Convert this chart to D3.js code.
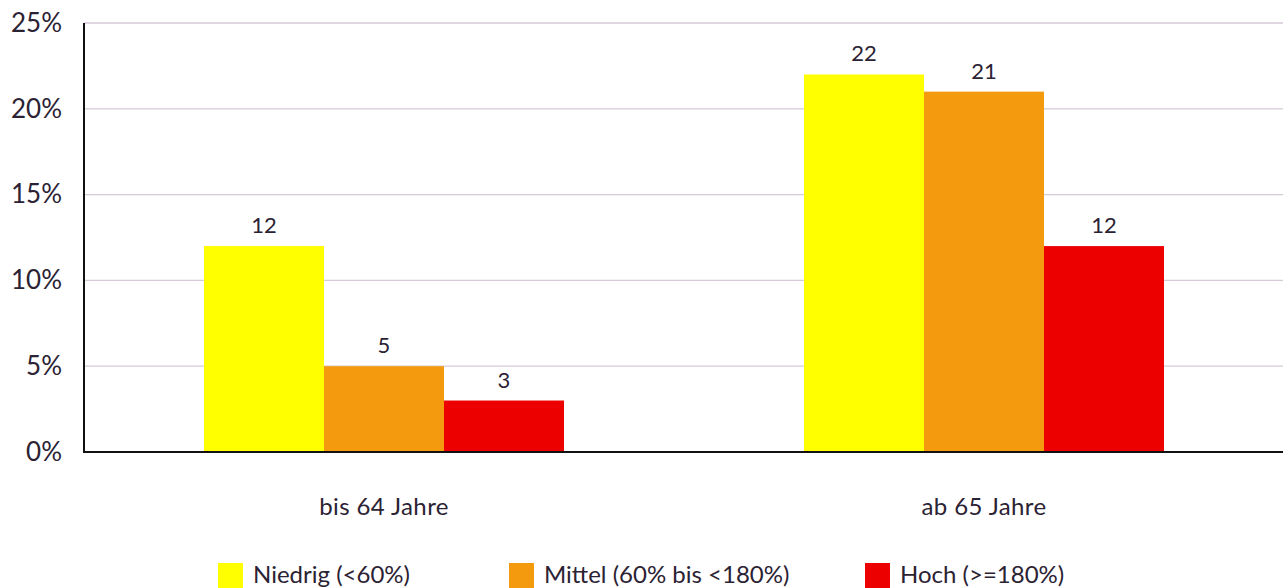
<!DOCTYPE html>
<html>
<head>
<meta charset="utf-8">
<script src="https://cdn.jsdelivr.net/npm/d3@7"></script>
<style>
  html, body { margin: 0; padding: 0; background: #fff; }
  svg { display: block; font-family: Lato, "Open Sans", sans-serif; }
</style>
</head>
<body>
<svg id="chart" width="1283" height="588"></svg>
<script>
const categories = ["bis 64 Jahre", "ab 65 Jahre"];
const seriesNames = ["Niedrig (<60%)", "Mittel (60% bis <180%)", "Hoch (>=180%)"];
const seriesColors = ["#FFFF00", "#F39A0E", "#EC0000"];
const niedrig = [12, 22];
const mittel = [5, 21];
const hoch = [3, 12];
const yTicks = [0, 5, 10, 15, 20, 25];

const seriesValues = [niedrig, mittel, hoch];
const svg = d3.select("#chart");
const textColor = "#2b2233";

const plotLeft = 84, plotRight = 1284, plotTop = 23, plotBottom = 452;

const x0 = d3.scaleBand().domain(categories).range([plotLeft, plotRight]).paddingInner(0).paddingOuter(0);
const x1 = d3.scaleBand().domain(seriesNames).range([120, 480]);
const y = d3.scaleLinear().domain([0, 25]).range([plotBottom, plotTop]);

// tick labels
const yAxis = d3.axisLeft(y).tickValues(yTicks).tickFormat(d => d + "%").tickSize(0).tickPadding(22);
const gy = svg.append("g").attr("transform", `translate(${plotLeft},0)`).call(yAxis);
gy.select(".domain").remove();
gy.selectAll("text").attr("font-size", 26).attr("fill", textColor).attr("font-family", "Lato, sans-serif");

// gridlines
svg.append("g").selectAll("line").data(yTicks.filter(d => d > 0)).join("line")
  .attr("x1", plotLeft).attr("x2", plotRight).attr("y1", d => y(d)).attr("y2", d => y(d))
  .attr("stroke", "#d6c9d8").attr("stroke-width", 1.3);

// bars
const groups = svg.append("g").selectAll("g").data(categories).join("g")
  .attr("transform", d => `translate(${x0(d)},0)`);

groups.each(function(cat, ci) {
  const g = d3.select(this);
  seriesNames.forEach((s, si) => {
    const v = seriesValues[si][ci];
    g.append("rect")
      .attr("x", x1(s)).attr("y", y(v))
      .attr("width", x1.bandwidth()).attr("height", y(0) - y(v))
      .attr("fill", seriesColors[si]);
    g.append("text")
      .attr("x", x1(s) + x1.bandwidth() / 2).attr("y", y(v) - 13)
      .attr("text-anchor", "middle").attr("font-size", 22).attr("fill", textColor)
      .text(v);
  });
});

// axis lines
svg.append("line").attr("x1", plotLeft).attr("x2", plotLeft).attr("y1", plotTop).attr("y2", plotBottom + 1)
  .attr("stroke", "#111").attr("stroke-width", 2);
svg.append("line").attr("x1", plotLeft).attr("x2", plotRight).attr("y1", plotBottom).attr("y2", plotBottom)
  .attr("stroke", "#111").attr("stroke-width", 2);

// category labels
const xAxis = d3.axisBottom(x0).tickSize(0).tickPadding(0);
const gx = svg.append("g").attr("transform", `translate(0,${plotBottom})`).call(xAxis);
gx.select(".domain").remove();
gx.selectAll("text").attr("font-size", 24).attr("fill", textColor).attr("font-family", "Lato, sans-serif")
  .attr("letter-spacing", "0.4px").attr("dy", null).attr("y", 63);

// legend
const legendX = [218, 509, 865];
const legend = svg.append("g").selectAll("g").data(seriesNames).join("g")
  .attr("transform", (d, i) => `translate(${legendX[i]},563)`);
legend.append("rect").attr("width", 25).attr("height", 25).attr("fill", (d, i) => seriesColors[i]);
legend.append("text").attr("x", 35).attr("y", 20)
  .attr("font-size", 24).attr("fill", textColor).text(d => d);
</script>
</body>
</html>
